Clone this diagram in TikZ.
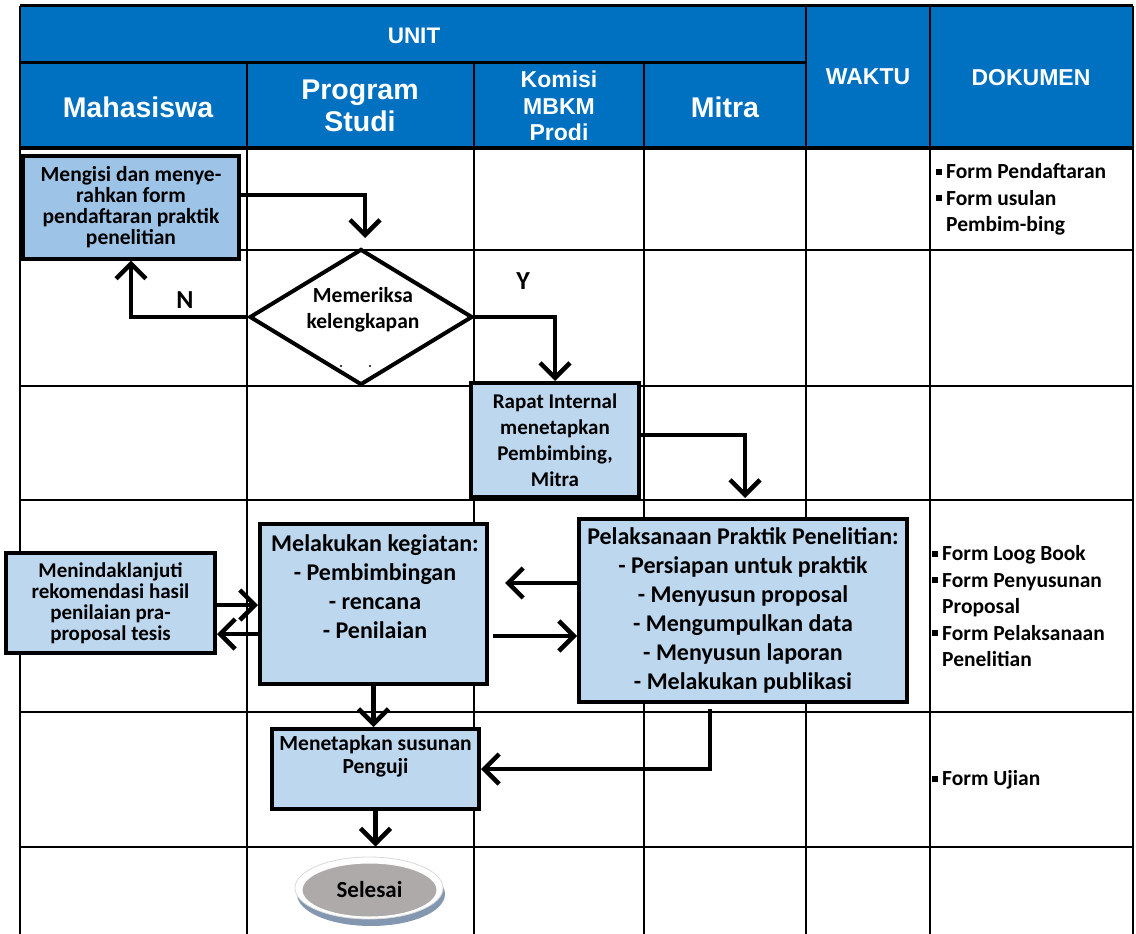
\documentclass[tikz,border=0pt]{standalone}
\usepackage{fontspec}
\setmainfont{Carlito}
\newfontfamily\hdrfont{Liberation Sans}
\usetikzlibrary{arrows.meta,shapes.geometric}
\definecolor{hdrblue}{HTML}{0070C0}
\definecolor{boxblue}{HTML}{BDD7EE}
\definecolor{boxdark}{HTML}{9DC3E6}
\definecolor{selgray}{HTML}{AEAAAA}
\definecolor{selshadow}{HTML}{8497B0}
\newcommand\fsz[2]{\fontsize{#1}{#2}\selectfont}
\newcommand\bsq{\makebox[10pt][l]{\rule[4pt]{6pt}{6pt}}}
\newcommand\bind{\hspace*{10pt}}
\begin{document}
\begin{tikzpicture}[x=1pt,y=-1pt,
  gridline/.style={line width=2pt},
  hdr/.style={text=white, align=center, inner sep=0pt},
  proc/.style={draw, line width=4pt, fill=boxblue, inner sep=0pt, align=center},
  ptext/.style={align=center, inner sep=0pt},
  arr/.style={line width=4.5pt, -{Straight Barb[length=15pt,width=30pt]}},
  doc/.style={font=\bfseries\fsz{21.5}{26.5}, align=left, anchor=west, inner sep=0pt}]
\useasboundingbox (0,0) rectangle (1136,934);
% header
\fill[hdrblue] (20,6) rectangle (1133,148);
\draw[line width=3pt] (20,6) -- (1133,6);
\draw[gridline] (20,6) -- (20,934);
\draw[gridline] (1133,6) -- (1133,934);
\draw[line width=3pt] (20,63) -- (806,63);
\draw[gridline] (806,6) -- (806,934);
\draw[gridline] (930,6) -- (930,934);
\foreach \x in {247,474,644} \draw[gridline] (\x,63) -- (\x,934);
\draw[line width=3.5pt] (20,148) -- (1133,148);
\foreach \y in {250,386,500,712,847} \draw[gridline] (20,\y) -- (1133,\y);
% header texts
\node[hdr, font=\hdrfont\bfseries\fsz{22.5}{26}] (hunit) at (414,36) {UNIT};
\node[hdr, font=\hdrfont\bfseries\fsz{23}{26}] (hwaktu) at (868,77) {WAKTU};
\node[hdr, font=\hdrfont\bfseries\fsz{23}{26}] (hdok) at (1031,78) {DOKUMEN};
\node[hdr, font=\hdrfont\bfseries\fsz{28.5}{32}] (hmhs) at (138,107) {Mahasiswa};
\node[hdr, font=\hdrfont\bfseries\fsz{28.5}{32}] (hps) at (360,106) {Program\\Studi};
\node[hdr, font=\hdrfont\bfseries\fsz{23}{26.5}] (hkom) at (559,106) {Komisi\\MBKM\\Prodi};
\node[hdr, font=\hdrfont\bfseries\fsz{28.5}{32}] (hmit) at (725,107) {Mitra};
% process boxes
\node[proc, fill=boxdark, minimum width=216pt, minimum height=103pt, font=\bfseries\fsz{21.5}{21}] (b1) at (131,207)
  {Mengisi dan menye-\\rahkan form\\pendaftaran praktik\\penelitian};
\node[draw, line width=4pt, fill=white, diamond, minimum width=223pt, minimum height=136pt, inner sep=0pt] (dia) at (361,317) {};
\node[ptext, font=\bfseries\fsz{21.5}{26}] (diat) at (363,310) {Memeriksa\\kelengkapan};
\fill (341,366) circle[radius=1.1pt];
\fill (370,366) circle[radius=1.1pt];
\node[proc, minimum width=168pt, minimum height=114pt, font=\bfseries\fsz{21}{26}] (rap) at (555,440)
  {Rapat Internal\\menetapkan\\Pembimbing,\\Mitra};
\node[proc, minimum width=209pt, minimum height=100pt, font=\bfseries\fsz{21}{21}] (men) at (110.5,603)
  {Menindaklanjuti\\rekomendasi hasil\\penilaian pra-\\proposal tesis};
\node[proc, minimum width=227pt, minimum height=160pt] (mel) at (373.5,604) {};
\node[ptext, font=\bfseries\fsz{24}{29}] (melt) at (375,586.5)
  {Melakukan kegiatan:\\- Pembimbingan\\- rencana\\- Penilaian};
\node[proc, minimum width=328pt, minimum height=183pt, font=\bfseries\fsz{24}{29}] (pel) at (743,610.5)
  {Pelaksanaan Praktik Penelitian:\\- Persiapan untuk praktik\\- Menyusun proposal\\- Mengumpulkan data\\- Menyusun laporan\\- Melakukan publikasi};
\node[proc, minimum width=207pt, minimum height=80pt] (pen) at (375.5,769) {};
\node[ptext, font=\bfseries\fsz{21.5}{23}] (pent) at (375.5,756.5) {Menetapkan susunan\\Penguji};
% Selesai terminator
\fill[selshadow] (371,894) ellipse [x radius=74pt, y radius=32pt];
\filldraw[fill=white, draw=black!15, line width=0.8pt] (369,888) ellipse [x radius=74pt, y radius=31pt];
\node[ellipse, fill=selgray, draw=white, line width=1pt, minimum width=135pt, minimum height=54pt, inner sep=0pt,
  font=\bfseries\fsz{23}{23}] (sel) at (369.5,890) {Selesai};
% labels
\node[font=\bfseries\fsz{26}{26}, inner sep=0pt] (lN) at (185,300) {N};
\node[font=\bfseries\fsz{26}{26}, inner sep=0pt] (lY) at (523,281) {Y};
% documents
\node[doc] (d1) at (936,199.5) {\bsq Form Pendaftaran\\\bsq Form usulan\\\bind Pembim-bing};
\node[doc] (d2) at (932,606.5) {\bsq Form Loog Book\\\bsq Form Penyusunan\\\bind Proposal\\\bsq Form Pelaksanaan\\\bind Penelitian};
\node[doc] (d3) at (932,780) {\bsq Form Ujian};
% connectors
\coordinate (c1) at (365,238);
\coordinate (y1) at (0,195);
\draw[arr] (b1.east |- y1) -| (c1);
\draw[arr] (dia.west) -| (b1.south);
\draw[arr] (dia.east) -| (rap.north);
\coordinate (c2) at (745,498);
\draw[arr] ([yshift=5pt]rap.east) -| (c2);
\coordinate (ya) at (0,605);
\coordinate (yb) at (0,634);
\draw[arr] (men.east |- ya) -- (mel.west |- ya);
\draw[arr] (mel.west |- yb) -- (men.east |- yb);
\coordinate (c3) at (505,583);
\draw[arr] (pel.west |- c3) -- (c3);
\coordinate (c4) at (493,636);
\draw[arr] (c4) -- (pel.west |- c4);
\draw[arr] (mel.south) -- (mel.south |- pen.north);
\coordinate (c5) at (710,707);
\draw[arr, shorten <=5pt] (c5 |- pel.south) -- (c5 |- pen.east) -- (pen.east);
\draw[arr, shorten >=16pt] (pen.south) -- (pen.south |- sel.north);
\end{tikzpicture}
\end{document}
